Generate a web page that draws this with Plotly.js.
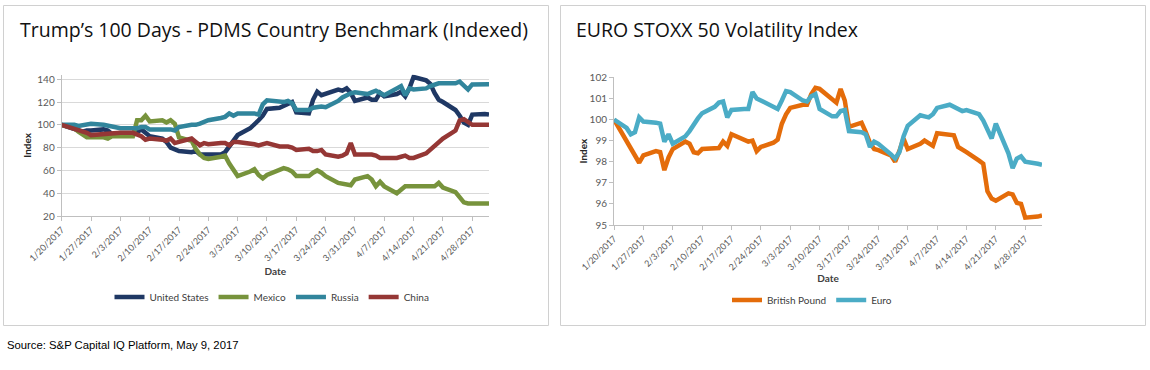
<!DOCTYPE html>
<html><head><meta charset="utf-8">
<script src="https://cdn.plot.ly/plotly-3.0.1.min.js"></script>
<style>html,body{margin:0;padding:0;background:#fff}#chart{width:1150px;height:370px}</style>
</head><body><div id="chart"></div>
<script>
const dates = ['2017-01-20','2017-01-23','2017-01-24','2017-01-25','2017-01-26','2017-01-27','2017-01-30','2017-01-31',
'2017-02-01','2017-02-02','2017-02-03','2017-02-06','2017-02-07','2017-02-08','2017-02-09','2017-02-10','2017-02-13','2017-02-14','2017-02-15','2017-02-16','2017-02-17','2017-02-20','2017-02-21','2017-02-22','2017-02-23','2017-02-24','2017-02-27','2017-02-28',
'2017-03-01','2017-03-02','2017-03-03','2017-03-06','2017-03-07','2017-03-08','2017-03-09','2017-03-10','2017-03-13','2017-03-14','2017-03-15','2017-03-16','2017-03-17','2017-03-20','2017-03-21','2017-03-22','2017-03-23','2017-03-24','2017-03-27','2017-03-28','2017-03-29','2017-03-30','2017-03-31',
'2017-04-03','2017-04-04','2017-04-05','2017-04-06','2017-04-07','2017-04-10','2017-04-11','2017-04-12','2017-04-13','2017-04-14','2017-04-17','2017-04-18','2017-04-19','2017-04-20','2017-04-21','2017-04-24','2017-04-25','2017-04-26','2017-04-27','2017-04-28',
'2017-05-01','2017-05-02'];

const unitedStates = [100,97,95,94,95,95,96,95,
92,91,91,91,94,96,93,90,88,85,80,78,77,76,77,74,74,74,74,76,
81,86,91,97,100,104,108,114,115,117,118,120,111,110,122,129,126,127,131,130,132,128,121,
124,122,122,128,125,127,129,125,132,142,139,136,128,122,120,113,108,102,100,109,
109.5,109];
const mexico = [100,97,94,92,89,89,89,88,
90,90,90,90,104,104,108,103,104,102,104,101,89,86,79,74,71,70,72,73,
66,60,55,59,61,56,53,56,61,62,61,59,55,55,58,60,58,55,49,48,47,47,52,
55,52,46,50,46,40,43,46,46,46,46,46,46,49,45,41,36,32,31,31,
31,31];
const russia = [100,100,99,100,101,101,100,99,
99,98,97,97,97,98,98,96,96,96,96,95,98,100,100,101,103,104,106,107,
110,108,110,110,110,109,118,121.5,120,120,121,119,113,113,115,116,116,115.5,121,124,126,127.7,128.5,
127,128.5,130,128,126,132,134,126,132,131,132,134,135.5,136.5,136.5,136.5,138,134,131,135.5,
135.6,135.6];
const china = [100,97,96,94,93,91,92,92,
92,93,93,93,92,90,87,88,87,86,88,84,85,88,85,82,84,83,84,84,
82,85,85,84,83,82,83,84,81,81,81,80,78,79,77,77,78,74,72,73,75,84,74,
74,74,73,71,71,71,72,73,71,71,75,78,81,84,88,95,104,105,102,100,
100,100];

const britishPound = [100.0,99.0,98.7,98.3,97.95,98.3,98.5,98.45,
97.6,98.2,98.6,98.95,98.85,98.45,98.4,98.6,98.65,98.65,98.95,98.75,99.3,99.05,98.95,99.0,98.5,98.7,98.9,99.05,
99.8,100.25,100.55,100.7,100.7,101.2,101.5,101.45,101.0,100.8,101.45,100.9,99.65,99.85,99.4,98.9,98.6,98.55,98.3,98.0,98.5,99.1,98.6,
98.85,99.0,98.9,98.75,99.35,99.3,99.25,98.7,98.6,98.45,98.05,97.9,96.6,96.25,96.15,96.5,96.45,96.05,96.0,95.35,
95.4,95.45];
const euro = [100.0,99.6,99.3,99.4,100.1,99.9,99.85,99.8,
98.95,99.3,98.85,99.2,99.45,99.8,100.05,100.3,100.6,100.8,100.85,100.1,100.45,100.5,100.5,101.3,101.0,100.9,100.6,100.5,
100.9,101.35,101.3,100.9,100.85,101.1,101.2,100.5,100.15,100.15,100.4,100.45,99.45,99.4,99.3,98.7,98.95,98.85,98.35,98.15,98.45,99.2,99.7,
100.2,100.15,100.1,100.25,100.55,100.7,100.6,100.5,100.4,100.45,100.25,99.95,99.55,99.1,99.8,98.4,97.7,98.15,98.25,98.0,
97.9,97.85];

const weekTicks = ['2017-01-20','2017-01-27','2017-02-03','2017-02-10','2017-02-17','2017-02-24','2017-03-03','2017-03-10','2017-03-17','2017-03-24','2017-03-31','2017-04-07','2017-04-14','2017-04-21','2017-04-28'];
const weekLabels = ['1/20/2017','1/27/2017','2/3/2017','2/10/2017','2/17/2017','2/24/2017','3/3/2017','3/10/2017','3/17/2017','3/24/2017','3/31/2017','4/7/2017','4/14/2017','4/21/2017','4/28/2017'];

const countryNames = ['United States','Mexico','Russia','China'];
const countrySeries = [unitedStates, mexico, russia, china];
const countryColors = ['#1F3864','#77933C','#31859C','#953735'];
const fxNames = ['British Pound','Euro'];
const fxSeries = [britishPound, euro];
const fxColors = ['#E46C0A','#4BACC6'];

const leftTitle = 'Trump\u2019s 100 Days - PDMS Country Benchmark (Indexed)';
const rightTitle = 'EURO STOXX 50 Volatility Index';
const sourceNote = 'Source: S&P Capital IQ Platform, May 9, 2017';

const W = 1150, H = 370;
const px = x => x / W;
const py = y => (H - y) / H;
const tickFont = {family: '"Liberation Sans Narrow", Lato, sans-serif', size: 9, color: '#595959'};
const labFont = {family: '"Liberation Sans Narrow", Lato, sans-serif', size: 10, color: '#595959'};

const traces = [];
countryNames.forEach((n, i) => traces.push({
  x: dates, y: countrySeries[i], name: n, type: 'scatter', mode: 'lines',
  line: {color: countryColors[i], width: 4.5}, xaxis: 'x', yaxis: 'y', legend: 'legend'
}));
fxNames.forEach((n, i) => traces.push({
  x: dates, y: fxSeries[i], name: n, type: 'scatter', mode: 'lines',
  line: {color: fxColors[i], width: 4.5}, xaxis: 'x2', yaxis: 'y2', legend: 'legend2'
}));

const xCommon = {
  type: 'date', range: ['2017-01-20', '2017-05-02'], tickmode: 'array',
  tickvals: weekTicks, ticktext: weekLabels, tickangle: -45, tickfont: tickFont,
  showline: true, linecolor: '#bfbfbf', linewidth: 1, ticks: 'outside', ticklen: 4, tickcolor: '#bfbfbf',
  showgrid: false, zeroline: false, fixedrange: true
};
const yCommon = {
  showline: true, linecolor: '#bfbfbf', linewidth: 1, ticks: 'outside', ticklen: 4, tickcolor: '#bfbfbf',
  tickfont: labFont, zeroline: false, fixedrange: true
};
const dateTitle = s => ({text: '<b>Date</b>', font: {family: 'Lato, sans-serif', size: 10, color: '#404040'}, standoff: s});
const indexTitle = s => ({text: '<b>Index</b>', font: {family: 'Lato, sans-serif', size: 10, color: '#262626'}, standoff: s});

const layout = {
  width: W, height: H, margin: {l: 0, r: 0, t: 0, b: 0},
  paper_bgcolor: '#fff', plot_bgcolor: '#fff', hovermode: false,
  xaxis: Object.assign({}, xCommon, {domain: [px(61.7), px(489)], anchor: 'y', title: dateTitle(5)}),
  yaxis: Object.assign({}, yCommon, {domain: [py(216), py(74.7)], anchor: 'x', range: [20, 144],
    tickmode: 'array', tickvals: [20,40,60,80,100,120,140], showgrid: true, gridcolor: '#d9d9d9', title: indexTitle(3)}),
  xaxis2: Object.assign({}, xCommon, {domain: [px(614), px(1042)], anchor: 'y2', title: dateTitle(0)}),
  yaxis2: Object.assign({}, yCommon, {domain: [py(225), py(77.3)], anchor: 'x2', range: [95, 102],
    dtick: 1, showgrid: false, title: indexTitle(0)}),
  legend: {orientation: 'h', x: px(272), y: py(297), xanchor: 'center', yanchor: 'middle',
    font: {family: '"Liberation Sans Narrow", Lato, sans-serif', size: 10, color: '#404040'}, itemwidth: 30, tracegroupgap: 0},
  legend2: {orientation: 'h', x: px(812), y: py(300), xanchor: 'center', yanchor: 'middle',
    font: {family: '"Liberation Sans Narrow", Lato, sans-serif', size: 10, color: '#404040'}, itemwidth: 30},
  shapes: [
    {type: 'rect', xref: 'paper', yref: 'paper', x0: px(3.5), x1: px(548.5), y0: py(325.5), y1: py(5.5), line: {color: '#d0d0d0', width: 1}},
    {type: 'rect', xref: 'paper', yref: 'paper', x0: px(560.5), x1: px(1145.5), y0: py(325.5), y1: py(5.5), line: {color: '#d0d0d0', width: 1}}
  ],
  annotations: [
    {text: leftTitle, xref: 'paper', yref: 'paper', x: px(18), y: py(30), xanchor: 'left', yanchor: 'middle', showarrow: false,
      font: {family: '"Open Sans", sans-serif', size: 19.5, color: '#111'}},
    {text: rightTitle, xref: 'paper', yref: 'paper', x: px(574), y: py(30), xanchor: 'left', yanchor: 'middle', showarrow: false,
      font: {family: '"Open Sans", sans-serif', size: 19.5, color: '#111'}},
    {text: sourceNote, xref: 'paper', yref: 'paper', x: px(5), y: py(345), xanchor: 'left', yanchor: 'middle', showarrow: false,
      font: {family: '"Liberation Sans", Arial, sans-serif', size: 11.3, color: '#000'}}
  ]
};

Plotly.newPlot('chart', traces, layout, {displayModeBar: false, staticPlot: true});
</script>
</body></html>
